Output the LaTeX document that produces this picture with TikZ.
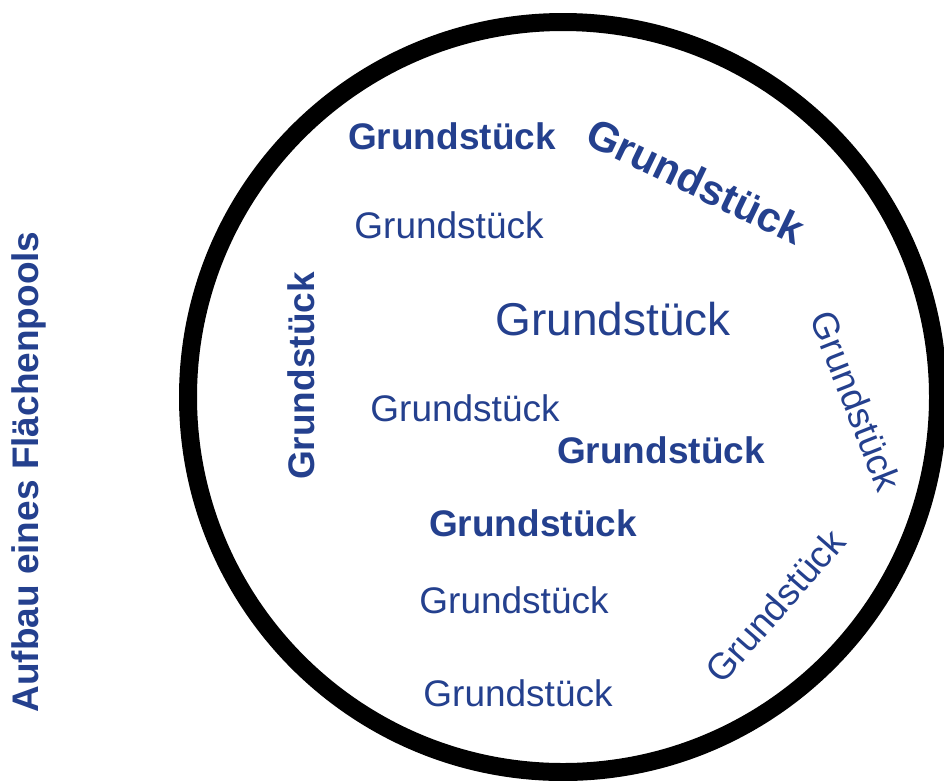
\documentclass[tikz,border=0pt]{standalone}
\usepackage{fontspec}
\setmainfont{Liberation Sans}
\definecolor{poolblue}{RGB}{36,64,142}
\tikzset{
  lbl/.style={inner sep=0pt, text=poolblue, font=\fontsize{37pt}{44pt}\selectfont},
  lblb/.style={lbl, font=\fontsize{37pt}{44pt}\selectfont\bfseries},
  ring/.style={draw=black, line width=18pt}
}
\begin{document}
\begin{tikzpicture}[x=1pt,y=-1pt]
\useasboundingbox (0,0) rectangle (944,780);
\fill[white] (0,0) rectangle (944,780);
\draw[ring] (563,397) circle[radius=375];
\node[lblb, rotate=90] (title) at (29,472) {Aufbau eines Flächenpools};
\node[lblb, anchor=base] (g1) at (452,149) {Grundstück};
\node[lblb, rotate=-25.7, font=\fontsize{42pt}{50pt}\selectfont\bfseries] (g2) at (696,181) {Grundstück};
\node[lbl, anchor=base] (g3) at (449,238) {Grundstück};
\node[lbl, anchor=base, font=\fontsize{46pt}{54pt}\selectfont] (g4) at (613,335) {Grundstück};
\node[lblb, rotate=90] (g5) at (301,376) {Grundstück};
\node[lbl, rotate=-68.5] (g6) at (856,401) {Grundstück};
\node[lbl, anchor=base] (g7) at (465,421) {Grundstück};
\node[lblb, anchor=base] (g8) at (661,463) {Grundstück};
\node[lblb, anchor=base] (g9) at (533,536) {Grundstück};
\node[lbl, anchor=base] (g10) at (514,613) {Grundstück};
\node[lbl, rotate=48.8] (g11) at (775,606) {Grundstück};
\node[lbl, anchor=base] (g12) at (518,706) {Grundstück};
\end{tikzpicture}
\end{document}
